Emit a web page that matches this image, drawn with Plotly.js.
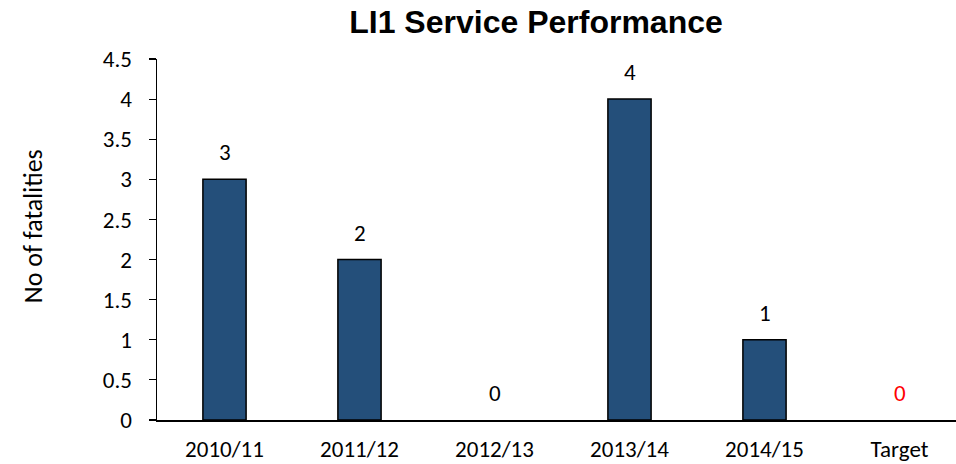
<!DOCTYPE html>
<html><head><meta charset="utf-8">
<script src="https://cdn.plot.ly/plotly-3.0.1.min.js"></script>
<style>body{margin:0;background:#fff}#c{width:956px;height:464px}</style>
</head><body><div id="c"></div>
<script>
const categories = ["2010/11","2011/12","2012/13","2013/14","2014/15","Target"];
const fatalities = [3,2,0,4,1,0];
const labelColors = ["#000000","#000000","#000000","#000000","#000000","#ff0000"];
const yTicks = [0,0.5,1,1.5,2,2.5,3,3.5,4,4.5];
const yTickText = ["0","0.5","1","1.5","2","2.5","3","3.5","4","4.5"];

const font = "Calibri, Carlito, Lato, 'Open Sans', sans-serif";
const trace = {
  type: "bar",
  x: categories.map((c,i)=>i),
  y: fatalities,
  width: 0.32,
  marker: {color: "#244f7a", line: {color: "#000000", width: fatalities.map(v => v === 0 ? 0 : 1.5)}},
  hoverinfo: "none"
};
const annotations = categories.map((c,i)=>({
  x: i, y: fatalities[i], xref: "x", yref: "y",
  text: String(fatalities[i]), showarrow: false,
  yanchor: "bottom", yshift: 11,
  font: {family: font, size: 23, color: labelColors[i]}
}));
annotations.push({
  xref: "paper", yref: "paper", x: -(157-33)/799, y: 0.537, xanchor: "center", yanchor: "middle",
  text: "No of fatalities", textangle: -90, showarrow: false,
  font: {family: font, size: 26, color: "#000"}
});
const layout = {
  width: 956, height: 464,
  margin: {l: 157, r: 0, t: 59, b: 44},
  paper_bgcolor: "#fff", plot_bgcolor: "#fff",
  showlegend: false,
  title: {text: "<b>LI1 Service Performance</b>", x: 536/956, xanchor: "center", y: 1 - 22/464, yanchor: "middle",
          font: {family: "Arial, 'Liberation Sans', sans-serif", size: 32, color: "#000"}},
  xaxis: {
    range: [-0.5, -0.5 + 799/135], tickmode: "array",
    tickvals: categories.map((c,i)=>i), ticktext: categories,
    showline: true, linecolor: "#000", linewidth: 1.5, ticks: "", showgrid: false, zeroline: false,
    ticklabelstandoff: 8,
    tickfont: {family: font, size: 23, color: "#000"}, fixedrange: true
  },
  yaxis: {
    range: [0, 4.5], tickmode: "array", tickvals: yTicks, ticktext: yTickText,
    showline: true, linecolor: "#000", linewidth: 1.5, ticks: "outside", ticklen: 7, tickcolor: "#000", tickwidth: 1.2,
    showgrid: false, zeroline: false, ticklabelstandoff: 12,
    tickfont: {family: font, size: 23, color: "#000"}, fixedrange: true
  },
  annotations: annotations
};
Plotly.newPlot("c", [trace], layout, {displayModeBar: false, staticPlot: true});
</script></body></html>
